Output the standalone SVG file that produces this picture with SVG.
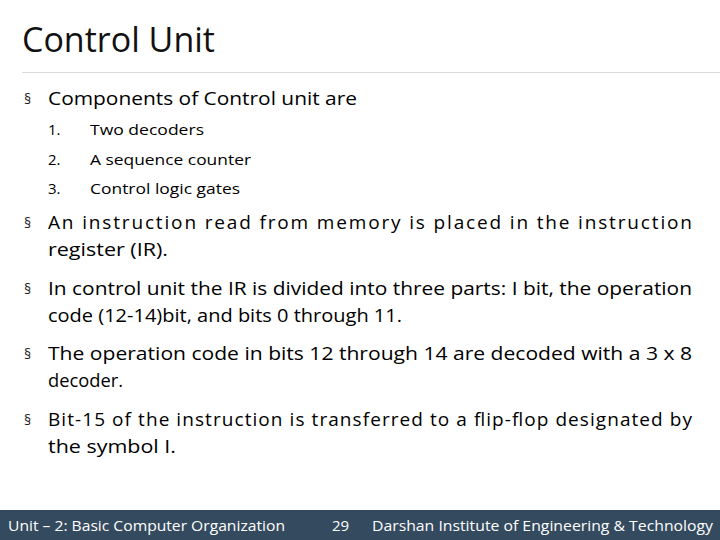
<svg xmlns="http://www.w3.org/2000/svg" width="720" height="540" viewBox="0 0 720 540">
<style>
text{font-family:"Open Sans","Liberation Sans",sans-serif;fill:#000}
.b{font-size:19px}
.n{font-size:15px}
.f{font-size:15px;fill:#fff}
.bu{font-size:14px;fill:#222}
</style>
<rect width="720" height="540" fill="#fff"/>
<text x="22" y="52" style="font-size:34px;fill:#111">Control Unit</text>
<line x1="22" y1="72.500" x2="720" y2="72.500" stroke="#d9d9d9" stroke-width="1"/>
<g id="bullets">
<text class="bu" x="24" y="104">§</text>
<text class="b" x="48" y="105" textLength="309" lengthAdjust="spacingAndGlyphs">Components of Control unit are</text>
<text class="n" x="48" y="135" fill="#444">1.</text><text class="n" x="90" y="135" textLength="114" lengthAdjust="spacingAndGlyphs">Two decoders</text>
<text class="n" x="48" y="165">2.</text><text class="n" x="90" y="165" textLength="161" lengthAdjust="spacingAndGlyphs">A sequence counter</text>
<text class="n" x="48" y="194">3.</text><text class="n" x="90" y="194" textLength="150" lengthAdjust="spacingAndGlyphs">Control logic gates</text>
<text class="bu" x="24" y="228">§</text>
<text class="b" x="48" y="229" textLength="644" lengthAdjust="spacing">An instruction read from memory is placed in the instruction</text>
<text class="b" x="48" y="256" textLength="120" lengthAdjust="spacingAndGlyphs">register (IR).</text>
<text class="bu" x="24" y="294">§</text>
<text class="b" x="48" y="295" textLength="644" lengthAdjust="spacingAndGlyphs">In control unit the IR is divided into three parts: I bit, the operation</text>
<text class="b" x="48" y="322" textLength="354" lengthAdjust="spacingAndGlyphs">code (12-14)bit, and bits 0 through 11.</text>
<text class="bu" x="24" y="359">§</text>
<text class="b" x="48" y="360" textLength="644" lengthAdjust="spacingAndGlyphs">The operation code in bits 12 through 14 are decoded with a 3 x 8</text>
<text class="b" x="48" y="387" textLength="75" lengthAdjust="spacingAndGlyphs">decoder.</text>
<text class="bu" x="24" y="425">§</text>
<text class="b" x="48" y="426" textLength="644" lengthAdjust="spacing">Bit-15 of the instruction is transferred to a flip-flop designated by</text>
<text class="b" x="48" y="453" textLength="128" lengthAdjust="spacingAndGlyphs">the symbol I.</text>
</g>
<g id="footer">
<rect x="0" y="510" width="720" height="30" fill="#344a5e"/>
<text class="f" x="8" y="531" textLength="277" lengthAdjust="spacingAndGlyphs">Unit – 2: Basic Computer Organization</text>
<text class="f" x="332" y="531">29</text>
<text class="f" x="372" y="531" textLength="341" lengthAdjust="spacingAndGlyphs">Darshan Institute of Engineering &amp; Technology</text>
</g>
</svg>
